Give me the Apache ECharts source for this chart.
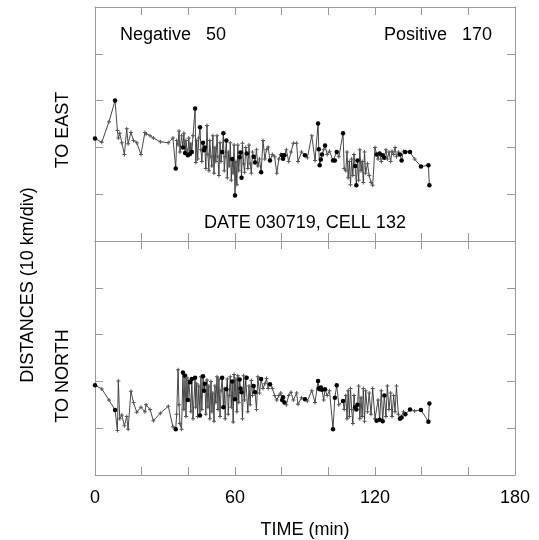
<!DOCTYPE html>
<html><head><meta charset="utf-8">
<script src="https://cdn.jsdelivr.net/npm/echarts@6/dist/echarts.min.js"></script>
<style>html,body{margin:0;padding:0;background:#fff}#c{width:539px;height:540px}</style>
</head><body><div id="c"></div>
<script>
// Time of each flash (min)
const times = [
0, 2.9, 6.0, 8.6, 9.6, 10.0, 10.6, 11.5, 12.6, 13.6,
14.2, 15.4, 16.5, 17.9, 19.7, 21.4, 21.9, 23.6, 25.0, 28.0,
31.4, 33.4, 34.6,
35.0, 35.6, 36.0, 36.4, 37.1, 37.7, 38.1, 38.6, 39.0, 39.4,
39.8, 40.2, 40.7, 41.1, 41.5, 42.0, 42.9, 43.2, 43.6, 44.0,
44.5, 45.0, 45.4, 45.8, 46.3, 46.7, 47.1, 47.5, 48.0, 48.4,
48.8, 49.2, 49.7, 50.1, 50.5, 51.0, 51.4, 51.8, 52.3, 52.7,
53.1, 53.6, 54.0, 54.5, 55.0, 55.4, 55.8, 56.3, 56.7, 57.1,
57.5, 58.0, 58.4, 58.8, 59.2, 59.6, 60.0, 60.4, 60.8, 61.2,
61.6, 62.0, 62.4, 62.8, 63.2, 63.7, 64.1, 64.6, 65.0, 65.5,
66.0, 66.5, 67.0, 67.5, 68.0, 68.6, 69.2, 69.8, 70.5, 71.2,
72.0, 72.8, 73.5, 74.2, 75.0, 76.0, 77.0, 77.9, 78.8, 79.6,
80.2, 80.6, 81.2, 82.0, 83.0, 84.0, 85.0,
86.4, 87.0, 88.5, 90.0, 91.0, 92.9, 94.3, 95.6, 95.9, 96.3,
96.8, 97.3, 98.0, 98.6, 99.5, 100.5, 102.0, 102.8, 103.6, 104.5,
106.3, 106.8,
107.5, 108.0, 108.5, 109.0, 109.5, 110.0, 110.5, 111.0, 111.5, 112.0,
112.5, 113.0, 113.5, 114.0, 114.5, 115.0, 115.5, 116.0, 116.8, 117.5,
118.3, 119.0, 120.0,
120.7, 121.3, 122.0, 122.7, 123.3, 124.0, 124.7, 125.3, 126.0, 126.7,
127.3, 128.0, 128.6, 129.2, 130.0, 130.7, 131.4, 132.2, 133.0, 135.0,
137.0, 139.7, 142.9, 143.3
];
// Distance to east (km)
const east = [
1.9, 1.1, 5.5, 10.0, 3.6, 2.0, 3.0, 1.0, -1.5, 4.0,
0.8, 3.2, 1.5, 1.0, -1.5, 3.2, 2.8, 2.5, 2.0, 1.2,
1.0, 2.0, -4.5,
1.5, 0.5, 3.5, -1.0, 2.5, 0.0, 3.0, -1.2, 1.5, -0.5,
-1.7, 2.0, -1.4, 0.8, -1.0, 2.5, 8.3, -3.2, 1.5, -2.5,
2.0, 4.3, -0.5, -3.0, 1.0, -0.6, 0.0, -4.5, 4.7, -1.5,
-5.0, 1.5, -2.0, -4.0, 2.5, -5.5, 0.0, -3.0, 2.5, -2.0,
-6.0, 1.0, -3.0, -1.0, 3.0, -5.0, -2.0, 1.5, -6.5, -1.0,
-4.0, 1.0, -7.0, -2.5, -5.5, 0.5, -10.3, -3.0, -8.0, 0.5,
-5.0, -2.1, -1.1, -6.5, 0.9, -3.5, -5.3, 0.0, -1.3, -4.5,
0.5, -3.5, -5.5, -1.0, -2.0, -3.2, -0.5, -4.0, -2.5, -5.3,
1.5, -2.5, -0.5, 0.1, -2.8, -1.5, -2.0, -5.5, -2.5, -1.5,
-1.7, -2.4, -1.7, -0.5, -3.0, -1.0, 0.9,
0.9, -3.0, -1.0, -1.7, -2.2, 2.5, -2.8, 5.1, -0.4, -3.8,
-2.6, -1.5, -0.5, 0.4, -1.5, -0.8, -2.8, -2.8, -1.0, -2.0,
3.0, -4.5,
-5.0, -1.0, -6.5, -3.0, -8.0, -2.5, -6.0, -1.5, -4.0, -8.1,
-2.8, -7.0, -0.5, -5.0, -3.0, -7.5, -1.0, -5.5, -3.5, -6.0,
-7.5, -8.1, 0.0,
-1.5, -2.5, -1.3, -3.0, -1.7, -2.2, -0.5, -2.5, -1.0, -3.0,
-0.8, -1.5, 0.0, -2.0, -1.0, -1.5, -2.8, -0.8, -1.0, -1.0,
-2.5, -4.1, -3.8, -8.1
];
// Distance to north (km)
const north = [
-0.8, -1.6, -4.0, -6.1, -10.5, 0.1, -8.0, -7.2, -9.5, -7.5,
-10.2, -2.1, -4.5, -6.6, -5.5, -6.5, -5.0, -6.0, -8.4, -6.8,
-5.3, -9.7, -10.2,
-7.0, 2.5, -5.0, -9.0, -10.2, 1.9, -6.0, 1.2, -7.5, 0.8,
-4.0, 0.2, -0.2, -6.5, 0.5, -8.0, 0.8, -5.5, -0.5, -7.5,
-1.0, -7.3, 1.0, -6.0, 1.1, -2.0, -0.5, -7.0, 0.3, -5.5,
-1.0, -8.0, 0.0, -6.5, -2.5, -8.5, -1.0, -4.5, 1.0, -6.0,
0.5, -7.5, -2.0, 0.8, -5.5, -1.5, -8.0, -1.7, 0.5, -7.0,
-3.0, 1.0, -5.5, 0.0, -8.7, 1.5, -3.8, 0.5, -6.5, 1.2,
-4.5, 0.4, -1.5, -2.3, -8.0, 1.2, -4.0, 0.5, 0.8, -6.5,
-1.0, -5.0, 0.2, -3.0, -1.0, -2.3, -6.0, 1.0, -2.5, 0.5,
-1.5, -0.5, 0.6, -1.5, -0.6, -1.5, -3.0, -4.0, -3.0, -2.5,
-4.0, -3.4, -4.5, -5.0, -3.0, -2.3, -4.0,
-2.5, -4.9, -3.5, -3.8, -4.2, -2.0, -4.5, 0.1, -1.5, -1.7,
-1.3, -1.8, -4.0, -1.7, -3.0, -2.0, -10.2, -3.5, -0.8, -5.0,
-4.2, -6.0,
-3.0, -8.0, -2.0, -7.5, -1.5, -6.0, -9.0, -3.0, -5.5, -6.0,
-5.0, -1.0, -8.0, -3.5, -7.5, -1.5, -8.5, -2.0, -6.5, -2.5,
-7.0, -1.5, -8.0,
-8.4, -4.0, -8.2, -2.0, -8.5, -3.0, -7.5, -1.0, -6.0, -2.5,
-7.5, -3.0, -6.5, -1.0, -7.0, -8.0, -7.7, -6.5, -7.0, -6.0,
-6.3, -6.1, -8.6, -4.7
];
// Flash polarity: n = negative, p = positive
const kinds = [
'n','p','p','n','p','p','p','p','p','p',
'p','p','p','p','p','p','p','p','p','p',
'p','p','n',
'p','p','p','p','p','n','p','n','p','p',
'n','p','n','p','n','p','n','p','p','p',
'p','n','p','p','n','n','n','p','p','p',
'p','p','p','p','p','p','p','p','p','p',
'p','p','p','n','n','p','p','n','p','p',
'p','p','p','n','p','p','n','p','p','p',
'p','n','n','n','p','p','p','p','n','p',
'p','p','p','p','n','n','p','p','p','n',
'p','p','p','p','n','p','p','p','p','p',
'n','n','n','p','p','p','p',
'p','p','p','n','p','p','p','n','n','n',
'n','n','p','n','p','p','n','n','n','p',
'n','p',
'p','p','p','p','p','p','p','p','n','n',
'n','p','p','p','p','p','p','p','p','p',
'p','p','p',
'n','p','n','p','n','n','p','p','p','p',
'p','p','p','p','p','n','n','p','n','n',
'p','n','n','n'
];
const xLabelValues = [0, 60, 120, 180];
const negativeCount = 50;
const positiveCount = 170;
const dateText = 'DATE 030719, CELL 132';

const FONT = '"Liberation Sans", Arial, Helvetica, sans-serif';
const PLUS = 'path://M1.5,0H2.5V1.5H4V2.5H2.5V4H1.5V2.5H0V1.5H1.5Z';
const FRAME = '#9a9a9a';

function points(vals) {
  return times.map((t, i) => ({
    value: [t, vals[i]],
    symbol: kinds[i] === 'n' ? 'circle' : PLUS,
    symbolSize: kinds[i] === 'n' ? 4.5 : 4,
    itemStyle: { color: kinds[i] === 'n' ? '#000' : '#555' }
  }));
}

function xAx(grid, pos, withLabels) {
  return {
    gridIndex: grid, type: 'value', min: 0, max: 180, interval: 20, position: pos,
    axisLine: { show: true, onZero: false, lineStyle: { color: FRAME, width: 1 } },
    axisTick: { show: true, inside: true, length: 8, lineStyle: { color: FRAME } },
    axisLabel: withLabels ? {
      show: true, margin: 14, color: '#000', fontSize: 18, fontFamily: FONT,
      formatter: v => xLabelValues.indexOf(v) >= 0 ? String(v) : ''
    } : { show: false },
    splitLine: { show: false },
    name: withLabels ? 'TIME (min)' : '',
    nameLocation: 'middle', nameGap: 46,
    nameTextStyle: { color: '#000', fontSize: 18, fontFamily: FONT }
  };
}
function yAx(grid, pos) {
  return {
    gridIndex: grid, type: 'value', min: -20, max: 30, interval: 10, position: pos,
    axisLine: { show: true, onZero: false, lineStyle: { color: FRAME, width: 1 } },
    axisTick: { show: true, inside: true, length: 8, lineStyle: { color: FRAME } },
    axisLabel: { show: false },
    splitLine: { show: false }
  };
}

const chart = echarts.init(document.getElementById('c'), null, { renderer: 'canvas' });
chart.setOption({
  animation: false,
  backgroundColor: '#fff',
  grid: [
    { left: 95, top: 7, width: 420, height: 234 },
    { left: 95, top: 241, width: 420, height: 236 }
  ],
  xAxis: [xAx(0, 'bottom', false), xAx(0, 'top', false), xAx(1, 'bottom', true), xAx(1, 'top', false)],
  yAxis: [yAx(0, 'left'), yAx(0, 'right'), yAx(1, 'left'), yAx(1, 'right')],
  series: [
    {
      type: 'line', xAxisIndex: 0, yAxisIndex: 0, data: points(east),
      showSymbol: true, showAllSymbol: true,
      lineStyle: { color: '#333', width: 0.9 }
    },
    {
      type: 'line', xAxisIndex: 2, yAxisIndex: 2, data: points(north),
      showSymbol: true, showAllSymbol: true,
      lineStyle: { color: '#333', width: 0.9 }
    }
  ],
  graphic: [
    { type: 'text', x: 120, y: 35, style: { text: 'Negative   ' + negativeCount, font: '18px ' + FONT, fill: '#000', textAlign: 'left', textVerticalAlign: 'middle', align: 'left', verticalAlign: 'middle' } },
    { type: 'text', x: 492, y: 35, style: { text: 'Positive   ' + positiveCount, font: '18px ' + FONT, fill: '#000', textAlign: 'right', textVerticalAlign: 'middle', align: 'right', verticalAlign: 'middle' } },
    { type: 'text', x: 305, y: 223, style: { text: dateText, font: '18px ' + FONT, fill: '#000', textAlign: 'center', textVerticalAlign: 'middle', align: 'center', verticalAlign: 'middle' } },
    { type: 'text', x: 28, y: 285, rotation: Math.PI / 2, style: { text: 'DISTANCES (10 km/div)', font: '18px ' + FONT, fill: '#000', textAlign: 'center', textVerticalAlign: 'middle', align: 'center', verticalAlign: 'middle' } },
    { type: 'text', x: 63, y: 130, rotation: Math.PI / 2, style: { text: 'TO EAST', font: '18px ' + FONT, fill: '#000', textAlign: 'center', textVerticalAlign: 'middle', align: 'center', verticalAlign: 'middle' } },
    { type: 'text', x: 63, y: 376, rotation: Math.PI / 2, style: { text: 'TO NORTH', font: '18px ' + FONT, fill: '#000', textAlign: 'center', textVerticalAlign: 'middle', align: 'center', verticalAlign: 'middle' } }
  ]
});
</script>
</body></html>
